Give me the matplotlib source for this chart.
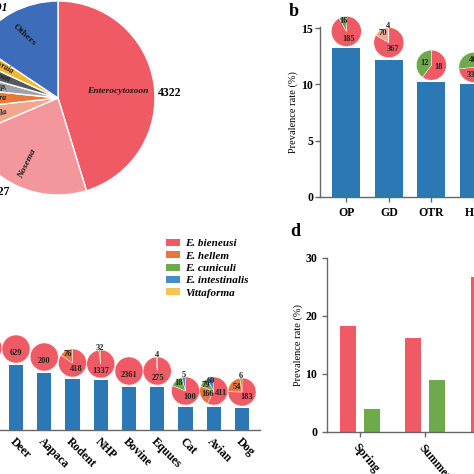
import matplotlib
matplotlib.use('Agg')
import matplotlib.pyplot as plt
from matplotlib.patches import Patch
import numpy as np

plt.rcParams['font.family'] = ['Liberation Serif', 'DejaVu Serif']
plt.rcParams['font.weight'] = 'bold'

W = 474
DPI = 100

RED = '#EF5A65'
ORANGE = '#E8773D'
GREEN = '#6EA94C'
BLUE = '#4A8CC8'
YELLOW = '#F5C452'
BARBLUE = '#2B78B4'
SPINE = '#666666'

# ---- panel a: genera
genusNames = ['Enterocytozoon', 'Nosema', 'Culicosporella', 'Pleistophora',
              'Anncaliia sp.', 'Encephalitozoon', 'Vavraia', 'Others']
genusCounts = [4322, 2227, 450, 320, 260, 240, 240, 1491]
genusColors = [RED, '#F4979C', '#F2A68C', ORANGE, '#9DA2A6', '#55595D', '#F2B731', '#3D6DBA']

# ---- panel b: regions
regionNames = ['OP', 'GD', 'OTR', 'HN']
regionRate = [13.2, 12.2, 10.2, 10.0]
regionPies = [[185, 16], [367, 70, 4], [18, 12], [335, 467]]
regionPieColors = [[RED, GREEN], [RED, '#F4A98E', '#F8C9AE'], [RED, GREEN], [RED, GREEN]]

# ---- panel c: hosts
speciesNames = ['E. bieneusi', 'E. hellem', 'E. cuniculi', 'E. intestinalis', 'Vittaforma']
speciesColors = [RED, ORANGE, GREEN, BLUE, YELLOW]
hostNames = ['Pigs', 'Deer', 'Aapaca', 'Rodent', 'NHP', 'Bovine', 'Equues', 'Cat', 'Avian', 'Dog']
hostRate = [26.4, 26.0, 22.8, 20.4, 20.0, 17.2, 17.2, 9.2, 9.2, 8.8]
hostPies = [[900, 0, 0, 0, 0],
            [629, 0, 0, 0, 0],
            [200, 0, 0, 0, 0],
            [418, 76, 0, 0, 0],
            [1337, 32, 0, 0, 0],
            [2361, 0, 0, 0, 0],
            [275, 4, 0, 0, 0],
            [100, 0, 18, 5, 0],
            [411, 166, 79, 60, 0],
            [183, 54, 6, 0, 0]]

# ---- panel d: seasons
seasonNames = ['Spring', 'Summer', 'Autumn']
seasonBieneusi = [18.2, 16.2, 26.7]
seasonCuniculi = [4.0, 8.9, 10.5]

fig = plt.figure(figsize=(W / DPI, W / DPI), dpi=DPI)


def pxAxes(x0, y0, x1, y1):
    # box in pixels, origin top-left
    return fig.add_axes([x0 / W, 1 - y1 / W, (x1 - x0) / W, (y1 - y0) / W])


def styleAxes(ax):
    for s in ['top', 'right']:
        ax.spines[s].set_visible(False)
    for s in ['left', 'bottom']:
        ax.spines[s].set_color(SPINE)
        ax.spines[s].set_linewidth(1)
    ax.tick_params(colors=SPINE, labelcolor='black', width=1, length=3.5, labelsize=8.5)


def smallPie(ax, x, top, vals, colors, radius, lift, start=90):
    cx, cy = ax.transData.transform((x, top))
    cy += lift
    pa = fig.add_axes([(cx - radius) / W, (cy - radius) / W, 2 * radius / W, 2 * radius / W])
    keep = [(v, c) for v, c in zip(vals, colors) if v > 0]
    vs = [k[0] for k in keep]
    wedges, _ = pa.pie(vs, colors=[k[1] for k in keep], startangle=start, counterclock=False,
                       radius=1, wedgeprops=dict(edgecolor='white', linewidth=0.3))
    total = float(sum(vs))
    if len(vs) > 1:
        for w, v in zip(wedges, vs):
            frac = v / total
            r = 0.5 if frac > 0.2 else (0.72 if frac > 0.05 else 1.12)
            mid = np.deg2rad((w.theta1 + w.theta2) / 2)
            pa.text(r * np.cos(mid), r * np.sin(mid), str(v), ha='center', va='center',
                    fontsize=6, color='#222222')
    else:
        pa.text(0, -0.3, str(vs[0]), ha='center', va='center', fontsize=6, color='#222222')
    pa.set_xlim(-1, 1)
    pa.set_ylim(-1, 1)
    pa.axis('off')


# ================= a
axA = pxAxes(58 - 100, 98 - 100, 58 + 100, 98 + 100)
wedges, _ = axA.pie(genusCounts, colors=genusColors, startangle=90, counterclock=False,
                    radius=0.97, wedgeprops=dict(edgecolor='white', linewidth=1))
axA.set_xlim(-1, 1)
axA.set_ylim(-1, 1)
axA.axis('off')
for w, name in zip(wedges, genusNames):
    mid = (w.theta1 + w.theta2) / 2
    m = np.deg2rad(mid)
    if name == 'Enterocytozoon':
        axA.text(0.6 * np.cos(m), 0.6 * np.sin(m) - 0.02, name, style='italic', fontsize=6.8,
                 ha='center', va='center', color='#1a1a1a')
    elif name == 'Nosema':
        axA.text(0.73 * np.cos(m), 0.73 * np.sin(m), name, style='italic', fontsize=6.8,
                 ha='center', va='center', rotation=64, color='#1a1a1a')
    elif name == 'Others':
        axA.text(0.72 * np.cos(m), 0.72 * np.sin(m), name, fontsize=6.8,
                 ha='center', va='center', rotation=-42, color='#1a1a1a')
    else:
        axA.text(0.52 * np.cos(m), 0.52 * np.sin(m), name, style='italic', fontsize=5.5,
                 ha='right', va='center', rotation=mid - 180, rotation_mode='anchor', color='#1a1a1a')
axA.text(1.0, 0.05, str(genusCounts[0]), fontsize=8.5, ha='left', va='center')
axA.text(-0.48, -0.94, str(genusCounts[1]), fontsize=8.5, ha='right', va='center')
axA.text(-0.5, 0.90, str(genusCounts[-1]), fontsize=8.5, ha='right', va='center', style='italic')

# ================= b
bxmin, bxmax = -0.62, 4.4
axB = pxAxes(320, 27, 320 + (bxmax - bxmin) * 42.5, 197)
axB.bar(range(len(regionNames)), regionRate, width=0.66, color=BARBLUE)
axB.set_xlim(bxmin, bxmax)
axB.set_ylim(0, 15.1)
axB.set_yticks([0, 5, 10, 15])
axB.set_xticks(range(len(regionNames)))
axB.set_xticklabels(regionNames, fontsize=8.5)
styleAxes(axB)
axB.tick_params(axis='y', pad=1.5)
axB.set_ylabel('Prevalence rate (%)', fontsize=7.5, labelpad=2)
for i, (vals, cols) in enumerate(zip(regionPies, regionPieColors)):
    smallPie(axB, i, regionRate[i], vals, cols, 15, 17, start=-25 if regionNames[i] == 'HN' else 90)

fig.text(294 / W, 1 - 12 / W, 'b', fontsize=13, ha='center', va='center')
fig.text(295 / W, 1 - 232 / W, 'd', fontsize=13, ha='center', va='center')

# ================= c
step = 28.25
cxmin, cxmax = -0.8, 9.64
x0c = 16 + step * (cxmin - 1)
axC = pxAxes(x0c, 430 - 40 * 2.5, x0c + (cxmax - cxmin) * step, 430)
axC.bar(range(len(hostNames)), hostRate, width=0.5, color=BARBLUE)
axC.set_xlim(cxmin, cxmax)
axC.set_ylim(0, 40)
axC.set_xticks(range(len(hostNames)))
axC.set_xticklabels(hostNames, rotation=-45, ha='left', va='top', rotation_mode='anchor', fontsize=8.5)
styleAxes(axC)
axC.tick_params(axis='x', length=0, pad=4)
for i, vals in enumerate(hostPies):
    smallPie(axC, i, hostRate[i], vals, speciesColors, 14, 16)

handles = [Patch(facecolor=c, edgecolor='none') for c in speciesColors]
leg = fig.legend(handles, speciesNames, loc='upper left', bbox_to_anchor=(166 / W, 1 - 239 / W),
                 frameon=False, borderpad=0, borderaxespad=0, handlelength=1.25, handleheight=0.6,
                 handletextpad=0.5, labelspacing=0.26, prop=dict(size=8, style='italic', weight='bold'))

# ================= d
gstep = 65.5
dxmin, dxmax = -0.5, 2.4
axD = pxAxes(327, 258, 327 + (dxmax - dxmin) * gstep, 432)
pos = np.arange(len(seasonNames))
axD.bar(pos - 0.183, seasonBieneusi, width=0.244, color=RED)
axD.bar(pos + 0.183, seasonCuniculi, width=0.244, color=GREEN)
axD.set_xlim(dxmin, dxmax)
axD.set_ylim(0, 30)
axD.set_yticks([0, 10, 20, 30])
axD.set_xticks(pos)
axD.set_xticklabels(seasonNames, rotation=-50, ha='left', va='top', rotation_mode='anchor', fontsize=8)
styleAxes(axD)
axD.set_ylabel('Prevalence rate (%)', fontsize=7.5, labelpad=2)

fig.savefig('out.png', dpi=DPI)
